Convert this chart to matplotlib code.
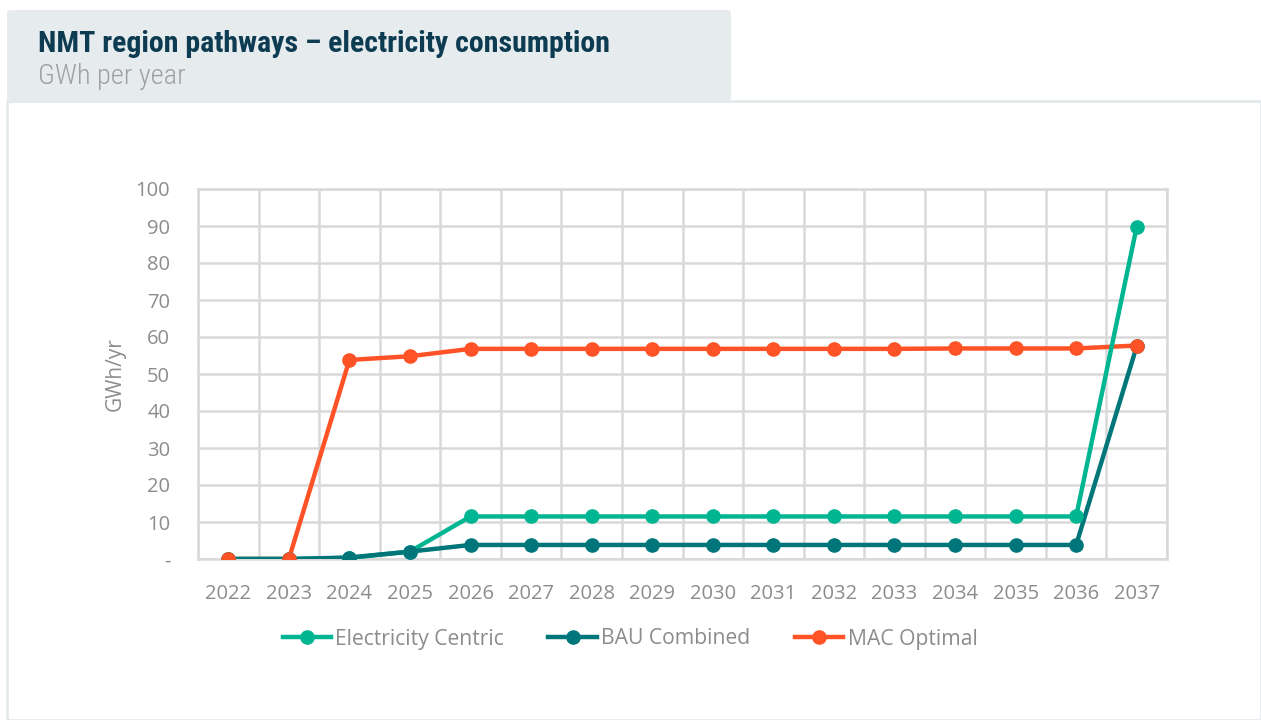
import matplotlib.pyplot as plt
from matplotlib.patches import Rectangle, FancyBboxPatch
from matplotlib.lines import Line2D

# annual electricity use by pathway, GWh/yr
years = ['2022', '2023', '2024', '2025', '2026', '2027', '2028', '2029',
         '2030', '2031', '2032', '2033', '2034', '2035', '2036', '2037']
electricity_centric = [0, 0, 0.3, 2.0, 11.5, 11.5, 11.5, 11.5, 11.5, 11.5, 11.5, 11.5, 11.5, 11.5, 11.5, 89.8]
bau_combined = [0, 0, 0.4, 2.0, 3.8, 3.8, 3.8, 3.8, 3.8, 3.8, 3.8, 3.8, 3.8, 3.8, 3.8, 57.5]
mac_optimal = [0, 0, 53.8, 54.8, 56.8, 56.8, 56.8, 56.8, 56.8, 56.8, 56.8, 56.8, 56.9, 56.9, 56.9, 57.7]

green = '#00b592'
teal = '#00767a'
orange = '#ff5226'
grid_col = '#d9d9d9'
text_col = '#8c8c8c'

plt.rcParams['font.family'] = ['Open Sans', 'DejaVu Sans']

fig = plt.figure(figsize=(12.61, 7.2), dpi=100)
fig.patch.set_facecolor('white')

# header block and outlined body panel
W, H = 1261, 720
fig.patches.append(Rectangle((7 / W, 0), 1 - 7 / W, 1 - 101 / H, transform=fig.transFigure,
                             facecolor='white', edgecolor='#e4e9ec', linewidth=2, zorder=0))
fig.patches.append(FancyBboxPatch((7 / W, 1 - 101 / H), (731 - 7) / W, 91 / H,
                                  boxstyle='round,pad=0,rounding_size=0.004',
                                  transform=fig.transFigure, facecolor='#e6ebee',
                                  edgecolor='none', zorder=1))
cond = ['Roboto Condensed', 'Liberation Sans Narrow', 'Roboto']
fig.text(38 / W, 1 - 44 / H, 'NMT region pathways \u2013 electricity consumption',
         fontsize=21.5, fontweight='bold', color='#0c3b52', va='center', family=cond)
fig.text(38 / W, 1 - 76 / H, 'GWh per year', fontsize=20.5, fontweight='light',
         color='#a0a0a0', va='center', family=cond)

ax = fig.add_axes([198 / W, 1 - 559 / H, (1167 - 198) / W, (559 - 189) / H])
ax.set_zorder(3)
x = list(range(len(years)))

# lines first, markers afterwards so the dots sit above every line
series = [(mac_optimal, orange, 3, 8), (electricity_centric, green, 4, 6),
          (bau_combined, teal, 5, 7)]
for vals, col, z_line, z_dot in series:
    ax.plot(x, vals, color=col, linewidth=3.2, solid_capstyle='round', zorder=z_line)
    ax.plot(x, vals, color=col, linestyle='none', marker='o', markersize=9.5, zorder=z_dot)

ax.set_xlim(-0.5, len(years) - 0.5)
ax.set_ylim(0, 100)
ax.set_yticks(range(0, 101, 10))
ax.set_yticklabels(['-'] + [str(v) for v in range(10, 101, 10)])
ax.set_xticks(x)
ax.set_xticklabels(years)
ax.set_xticks([i - 0.5 for i in range(len(years) + 1)], minor=True)

ax.grid(True, which='major', axis='y', color=grid_col, linewidth=1.8, zorder=0)
ax.grid(True, which='minor', axis='x', color=grid_col, linewidth=1.8, zorder=0)
ax.set_axisbelow(True)
for s in ax.spines.values():
    s.set_color(grid_col)
    s.set_linewidth(1.8)
ax.tick_params(which='both', length=0)
ax.tick_params(axis='x', pad=18, labelsize=14.5, labelcolor=text_col)
ax.tick_params(axis='y', pad=20, labelsize=14.5, labelcolor=text_col)
ax.set_ylabel('GWh/yr', fontsize=15, color=text_col, labelpad=7)

handles = [Line2D([], [], color=c, linewidth=3.2, marker='o', markersize=9.5)
           for c in (green, teal, orange)]
fig.legend(handles, ['Electricity Centric', 'BAU Combined', 'MAC Optimal'],
           loc='center', bbox_to_anchor=(630 / W, 1 - 639 / H), ncol=3, frameon=False,
           prop={'size': 15.2}, labelcolor=text_col, handlelength=2.3,
           handletextpad=0.2, columnspacing=2.1)

fig.savefig('out.png', dpi=100)
